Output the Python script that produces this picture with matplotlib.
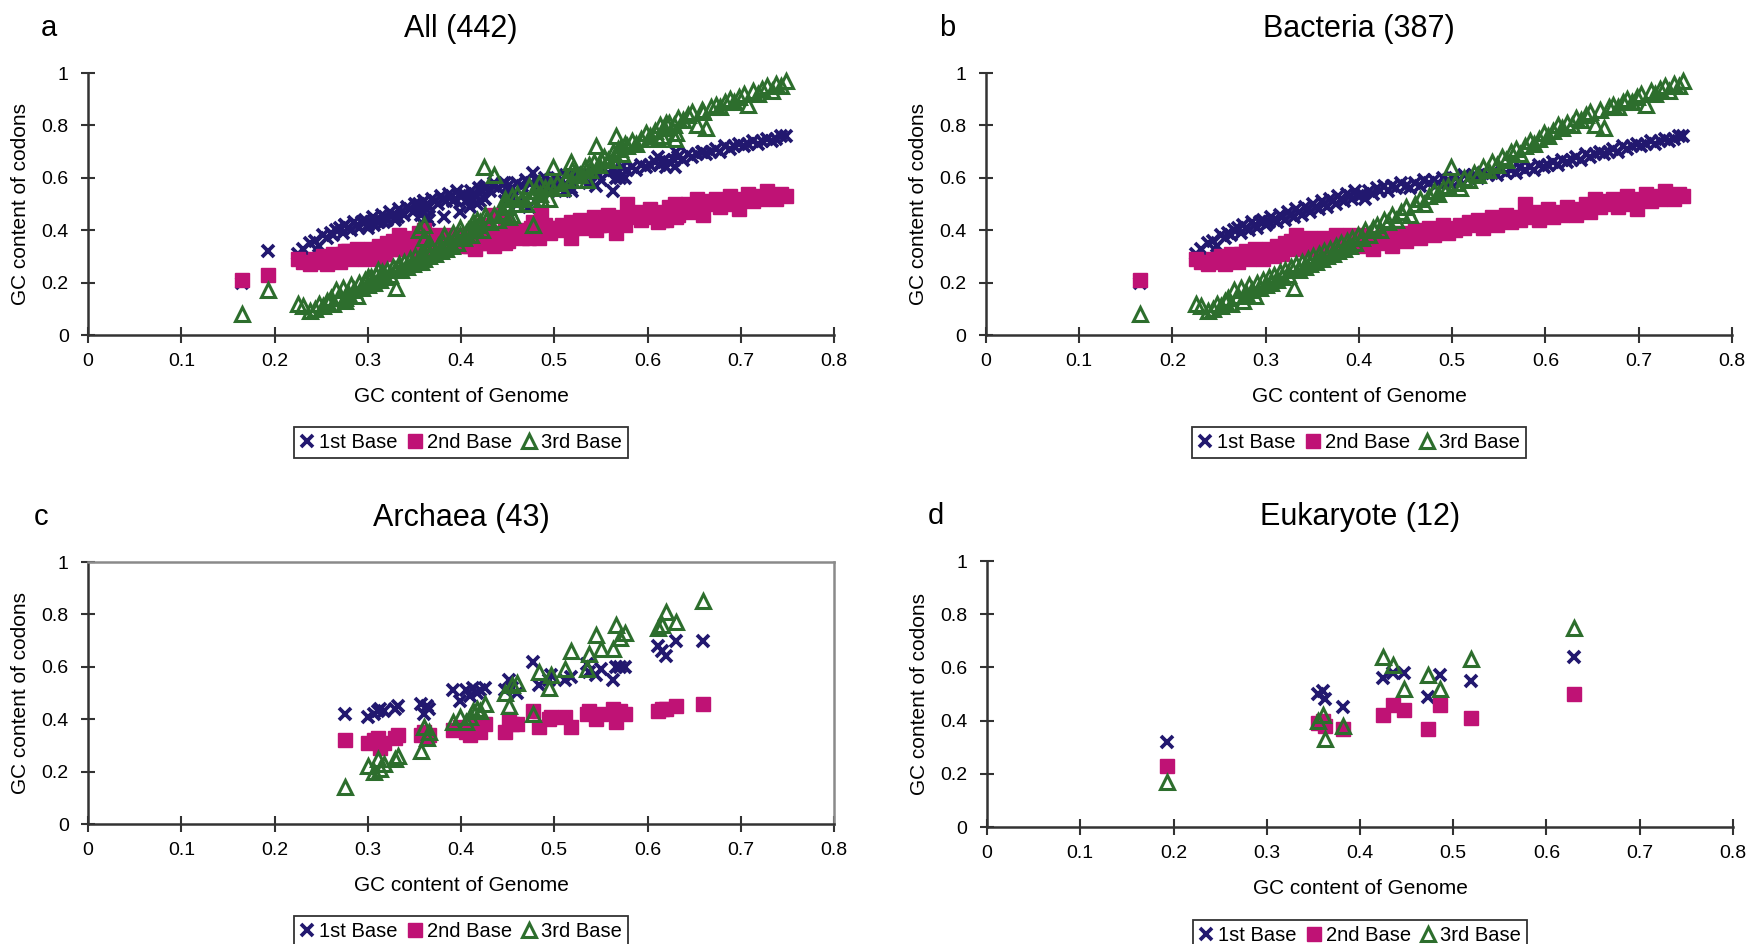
import matplotlib
matplotlib.use("Agg")
import matplotlib.pyplot as plt
from matplotlib.ticker import FuncFormatter, MultipleLocator

plt.rcParams["font.family"] = ["Liberation Sans", "DejaVu Sans"]

# Bacteria: GC content of genome and of 1st/2nd/3rd codon positions
bac_gc = [0.165, 0.225, 0.231, 0.238, 0.243, 0.248, 0.252, 0.256, 0.260, 0.263,
          0.266, 0.270, 0.273, 0.276, 0.279, 0.282, 0.285, 0.288, 0.291, 0.294,
          0.297, 0.300, 0.303, 0.306, 0.309, 0.312, 0.315, 0.318, 0.321, 0.324,
          0.327, 0.330, 0.333, 0.336, 0.339, 0.342, 0.345, 0.348, 0.351, 0.354,
          0.357, 0.360, 0.363, 0.366, 0.369, 0.372, 0.375, 0.378, 0.381, 0.384,
          0.387, 0.390, 0.393, 0.396, 0.399, 0.403, 0.407, 0.411, 0.415, 0.419,
          0.423, 0.427, 0.431, 0.435, 0.440, 0.445, 0.450, 0.455, 0.460, 0.465,
          0.470, 0.475, 0.480, 0.485, 0.490, 0.495, 0.499, 0.503, 0.508, 0.513,
          0.518, 0.523, 0.528, 0.533, 0.538, 0.543, 0.548, 0.553, 0.558, 0.563,
          0.568, 0.573, 0.578, 0.583, 0.588, 0.593, 0.598, 0.603, 0.608, 0.613,
          0.618, 0.623, 0.628, 0.633, 0.638, 0.643, 0.648, 0.653, 0.658, 0.663,
          0.668, 0.673, 0.678, 0.683, 0.688, 0.693, 0.698, 0.703, 0.708, 0.713,
          0.718, 0.723, 0.728, 0.733, 0.738, 0.743, 0.748]
bac_1st = [0.20, 0.31, 0.33, 0.35, 0.36, 0.34, 0.38, 0.37, 0.39, 0.38,
           0.40, 0.41, 0.39, 0.42, 0.41, 0.40, 0.43, 0.42, 0.41, 0.43,
           0.44, 0.42, 0.43, 0.45, 0.44, 0.43, 0.46, 0.45, 0.44, 0.47,
           0.46, 0.45, 0.48, 0.47, 0.46, 0.49, 0.48, 0.47, 0.50, 0.49,
           0.48, 0.51, 0.50, 0.49, 0.52, 0.51, 0.50, 0.53, 0.52, 0.51,
           0.54, 0.53, 0.52, 0.55, 0.53, 0.54, 0.52, 0.55, 0.54, 0.56,
           0.55, 0.57, 0.55, 0.57, 0.56, 0.58, 0.57, 0.56, 0.58, 0.57,
           0.59, 0.58, 0.59, 0.58, 0.60, 0.59, 0.58, 0.60, 0.59, 0.61,
           0.60, 0.61, 0.60, 0.62, 0.61, 0.62, 0.61, 0.63, 0.62, 0.63,
           0.62, 0.64, 0.63, 0.64, 0.63, 0.65, 0.64, 0.65, 0.66, 0.65,
           0.67, 0.66, 0.67, 0.68, 0.67, 0.69, 0.68, 0.69, 0.70, 0.69,
           0.70, 0.71, 0.70, 0.72, 0.71, 0.72, 0.73, 0.72, 0.73, 0.74,
           0.73, 0.74, 0.75, 0.74, 0.75, 0.76, 0.76]
bac_2nd = [0.21, 0.29, 0.28, 0.27, 0.29, 0.28, 0.30, 0.27, 0.29, 0.31,
           0.30, 0.28, 0.31, 0.30, 0.32, 0.29, 0.31, 0.33, 0.30, 0.32,
           0.29, 0.31, 0.33, 0.32, 0.30, 0.34, 0.33, 0.31, 0.35, 0.33,
           0.36, 0.34, 0.38, 0.35, 0.33, 0.36, 0.34, 0.37, 0.35, 0.33,
           0.36, 0.34, 0.37, 0.35, 0.33, 0.36, 0.38, 0.35, 0.37, 0.34,
           0.36, 0.38, 0.35, 0.37, 0.36, 0.34, 0.38, 0.36, 0.33, 0.37,
           0.35, 0.38, 0.36, 0.34, 0.37, 0.39, 0.36, 0.38, 0.40, 0.37,
           0.39, 0.41, 0.38, 0.40, 0.42, 0.39, 0.41, 0.40, 0.42, 0.41,
           0.43, 0.42, 0.44, 0.41, 0.43, 0.45, 0.42, 0.44, 0.46, 0.43,
           0.45, 0.44, 0.50, 0.45, 0.47, 0.44, 0.46, 0.48, 0.45, 0.47,
           0.46, 0.49, 0.47, 0.46, 0.48, 0.50, 0.47, 0.52, 0.49, 0.51,
           0.50, 0.52, 0.49, 0.51, 0.53, 0.50, 0.48, 0.52, 0.54, 0.51,
           0.53, 0.52, 0.55, 0.53, 0.52, 0.54, 0.53]
bac_3rd = [0.08, 0.12, 0.11, 0.09, 0.10, 0.12, 0.11, 0.13, 0.14, 0.12,
           0.17, 0.15, 0.18, 0.13, 0.16, 0.19, 0.17, 0.15, 0.20, 0.18,
           0.21, 0.19, 0.22, 0.20, 0.23, 0.21, 0.24, 0.22, 0.25, 0.23,
           0.26, 0.18, 0.27, 0.25, 0.28, 0.26, 0.29, 0.27, 0.30, 0.28,
           0.31, 0.29, 0.32, 0.30, 0.33, 0.31, 0.34, 0.32, 0.35, 0.33,
           0.36, 0.34, 0.37, 0.35, 0.38, 0.37, 0.40, 0.38, 0.41, 0.42,
           0.40, 0.44, 0.43, 0.46, 0.44, 0.47, 0.49, 0.46, 0.50, 0.52,
           0.50, 0.53, 0.55, 0.54, 0.56, 0.57, 0.64, 0.58, 0.56, 0.60,
           0.59, 0.62, 0.61, 0.64, 0.63, 0.66, 0.65, 0.68, 0.67, 0.70,
           0.71, 0.69, 0.72, 0.74, 0.73, 0.75, 0.77, 0.76, 0.78, 0.80,
           0.79, 0.81, 0.80, 0.83, 0.82, 0.84, 0.85, 0.80, 0.86, 0.79,
           0.87, 0.88, 0.87, 0.89, 0.90, 0.89, 0.91, 0.92, 0.88, 0.93,
           0.92, 0.94, 0.95, 0.93, 0.96, 0.95, 0.97]

# Archaea
arc_gc = [0.276, 0.300, 0.307, 0.311, 0.313, 0.317, 0.329, 0.332, 0.357, 0.360,
          0.363, 0.366, 0.391, 0.399, 0.405, 0.410, 0.413, 0.417, 0.420, 0.426,
          0.447, 0.451, 0.455, 0.460, 0.477, 0.484, 0.494, 0.497, 0.512, 0.518,
          0.535, 0.537, 0.545, 0.550, 0.563, 0.566, 0.570, 0.576, 0.611, 0.615,
          0.620, 0.631, 0.659]
arc_1st = [0.42, 0.41, 0.42, 0.43, 0.44, 0.43, 0.44, 0.45, 0.46, 0.42,
           0.45, 0.44, 0.51, 0.47, 0.51, 0.49, 0.52, 0.50, 0.51, 0.52,
           0.51, 0.55, 0.52, 0.50, 0.62, 0.53, 0.55, 0.57, 0.55, 0.56,
           0.61, 0.58, 0.57, 0.59, 0.55, 0.60, 0.60, 0.60, 0.68, 0.66,
           0.64, 0.70, 0.70]
arc_2nd = [0.32, 0.31, 0.32, 0.33, 0.29, 0.31, 0.33, 0.34, 0.34, 0.35,
           0.33, 0.34, 0.36, 0.37, 0.35, 0.34, 0.36, 0.37, 0.35, 0.38,
           0.35, 0.40, 0.38, 0.38, 0.43, 0.37, 0.40, 0.41, 0.41, 0.37,
           0.42, 0.43, 0.40, 0.42, 0.44, 0.39, 0.43, 0.42, 0.43, 0.44,
           0.44, 0.45, 0.46]
arc_3rd = [0.14, 0.22, 0.20, 0.25, 0.21, 0.23, 0.25, 0.26, 0.28, 0.37,
           0.33, 0.35, 0.39, 0.41, 0.39, 0.41, 0.43, 0.44, 0.43, 0.46,
           0.50, 0.45, 0.53, 0.54, 0.42, 0.58, 0.52, 0.57, 0.59, 0.66,
           0.59, 0.65, 0.72, 0.67, 0.67, 0.76, 0.71, 0.73, 0.75, 0.76,
           0.81, 0.77, 0.85]

# Eukaryote
euk_gc = [0.193, 0.355, 0.360, 0.362, 0.382, 0.425, 0.435, 0.447, 0.473, 0.486,
          0.519, 0.630]
euk_1st = [0.32, 0.50, 0.51, 0.48, 0.45, 0.56, 0.58, 0.58, 0.49, 0.57, 0.55, 0.64]
euk_2nd = [0.23, 0.39, 0.40, 0.38, 0.37, 0.42, 0.46, 0.44, 0.37, 0.46, 0.41, 0.50]
euk_3rd = [0.17, 0.40, 0.42, 0.33, 0.38, 0.64, 0.61, 0.52, 0.57, 0.52, 0.63, 0.75]

# All = Bacteria + Archaea + Eukaryote
all_gc = bac_gc + arc_gc + euk_gc
all_1st = bac_1st + arc_1st + euk_1st
all_2nd = bac_2nd + arc_2nd + euk_2nd
all_3rd = bac_3rd + arc_3rd + euk_3rd

NAVY = "#22186f"
MAGENTA = "#bf1275"
GREEN = "#2d6e2d"
AXIS = "#333333"

fig = plt.figure(figsize=(17.51, 9.44), dpi=100)

# letter, title, axes rect, letter x offset, data
panels = [
    ("a", "All (442)", [0.0503, 0.6451, 0.426, 0.2775], -0.027, all_gc, all_1st, all_2nd, all_3rd),
    ("b", "Bacteria (387)", [0.5631, 0.6451, 0.426, 0.2775], -0.027, bac_gc, bac_1st, bac_2nd, bac_3rd),
    ("c", "Archaea (43)", [0.0503, 0.1271, 0.426, 0.2775], -0.031, arc_gc, arc_1st, arc_2nd, arc_3rd),
    ("d", "Eukaryote (12)", [0.5637, 0.1239, 0.426, 0.2818], -0.034, euk_gc, euk_1st, euk_2nd, euk_3rd),
]

for letter, title, pos, lx, gc, b1, b2, b3 in panels:
    ax = fig.add_axes(pos)
    ax.plot(gc, b1, ls="none", marker="x", color=NAVY, ms=8.5, mew=2.7,
            label="1st Base", clip_on=False)
    ax.plot(gc, b2, ls="none", marker="s", color=MAGENTA, ms=10,
            label="2nd Base", clip_on=False)
    ax.plot(gc, b3, ls="none", marker="^", mfc="none", mec=GREEN, ms=9.5, mew=2.2,
            label="3rd Base", clip_on=False)

    ax.set_xlim(0, 0.8)
    ax.set_ylim(0, 1)
    ax.xaxis.set_major_locator(MultipleLocator(0.1))
    ax.yaxis.set_major_locator(MultipleLocator(0.2))
    fmt = FuncFormatter(lambda v, p: f"{v:g}")
    ax.xaxis.set_major_formatter(fmt)
    ax.yaxis.set_major_formatter(fmt)
    ax.tick_params(axis="x", direction="inout", length=12, width=1.5, color=AXIS,
                   labelsize=14, pad=7)
    ax.tick_params(axis="y", direction="inout", length=10, width=1.5, color=AXIS,
                   labelsize=14, pad=9)

    for side in ("left", "bottom"):
        ax.spines[side].set_color(AXIS)
        ax.spines[side].set_linewidth(1.8)
    if letter == "c":
        for side in ("top", "right"):
            ax.spines[side].set_color("#8a8a8a")
            ax.spines[side].set_linewidth(1.8)
    else:
        ax.spines["top"].set_visible(False)
        ax.spines["right"].set_visible(False)

    ax.set_xlabel("GC content of Genome", fontsize=15, labelpad=12)
    ax.set_ylabel("GC content of codons", fontsize=15, labelpad=8)
    ax.set_title(title, fontsize=22, pad=26)

    leg = ax.legend(loc="upper center", bbox_to_anchor=(0.5, -0.35), ncol=3,
                    fancybox=False, edgecolor="black", fontsize=14.5,
                    handlelength=0.7, handletextpad=0.25, columnspacing=0.5,
                    borderpad=0.3, borderaxespad=0)
    leg.get_frame().set_linewidth(1.3)

    bb = ax.get_position()
    fig.text(bb.x0 + lx, bb.y1 + 0.039, letter, fontsize=21, va="baseline")

fig.savefig("out.png", dpi=100)
